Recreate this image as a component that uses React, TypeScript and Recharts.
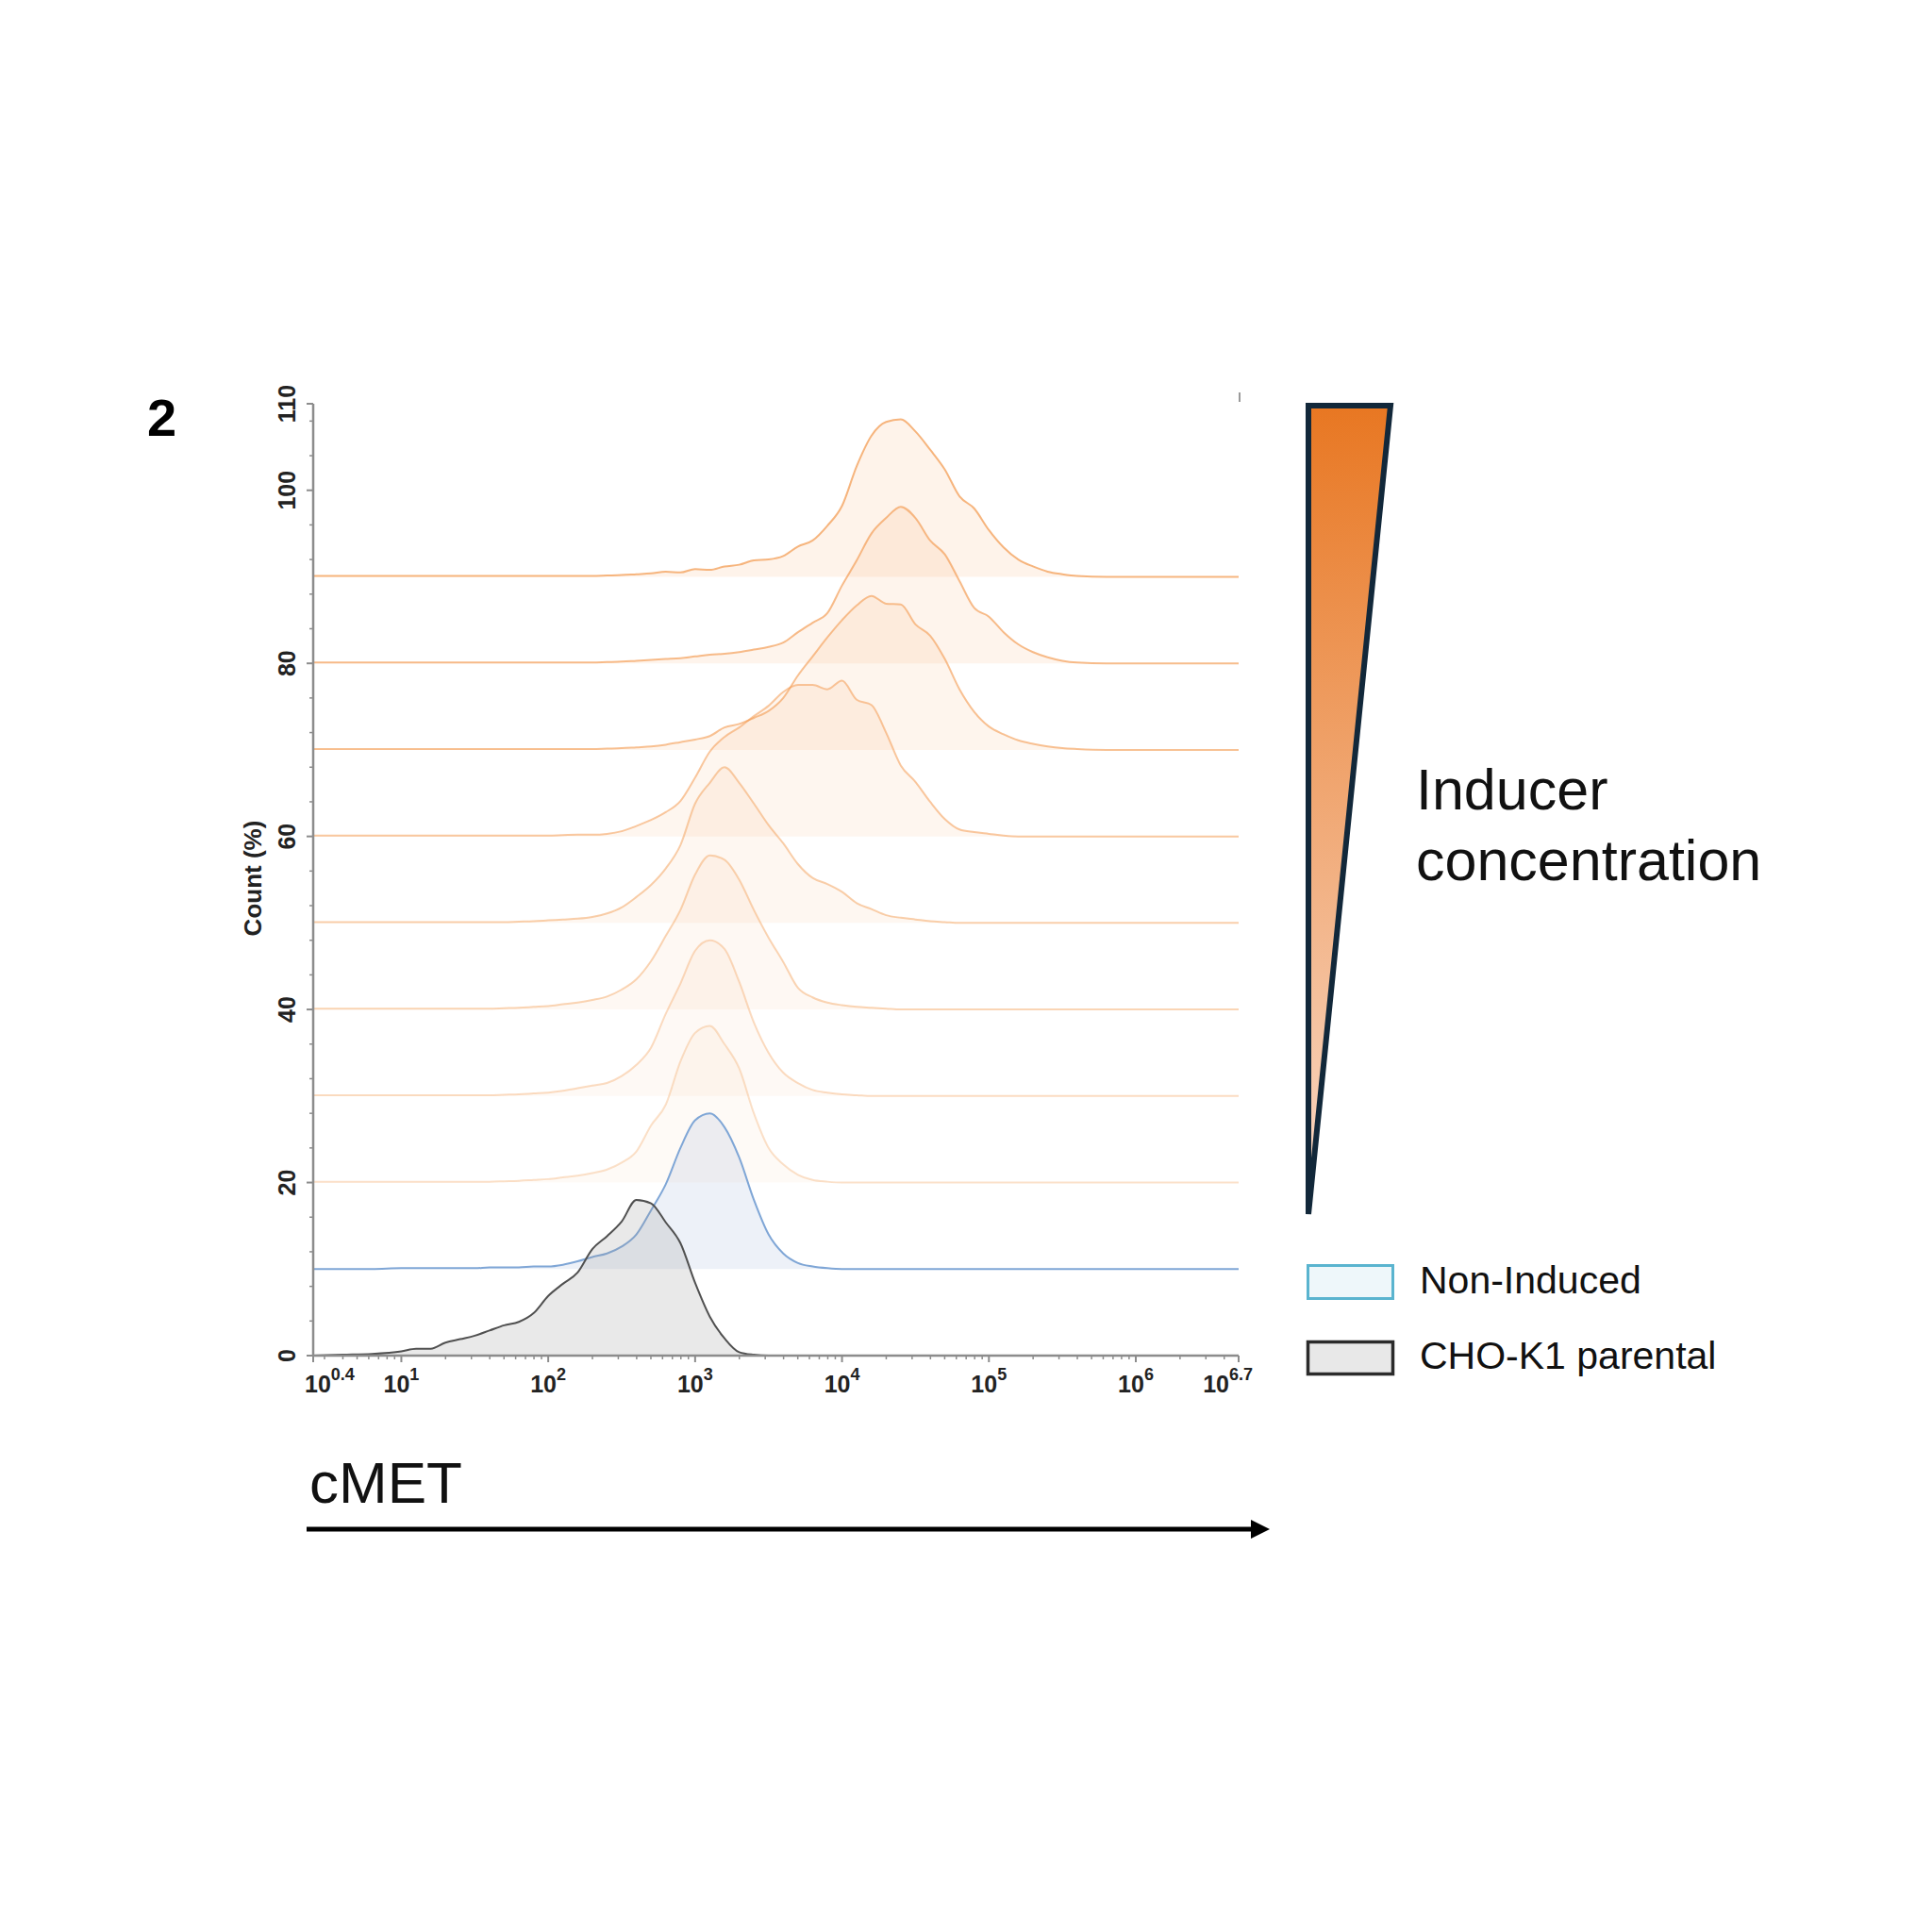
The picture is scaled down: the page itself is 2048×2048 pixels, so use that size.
import React from "react";
import { ComposedChart, Area, XAxis, YAxis } from "recharts";

// histogram bins, log10 of cMET fluorescence
const LOG_X = [
  0.4, 0.6, 0.8, 1.0, 1.1, 1.2, 1.3, 1.4, 1.5, 1.6, 1.7, 1.8, 1.9, 2.0, 2.1,
  2.2, 2.3, 2.4, 2.5, 2.6, 2.7, 2.8, 2.9, 3.0, 3.1, 3.2, 3.3, 3.4, 3.5, 3.6,
  3.7, 3.8, 3.9, 4.0, 4.1, 4.2, 4.3, 4.4, 4.5, 4.6, 4.7, 4.8, 4.9, 5.0, 5.1,
  5.2, 5.3, 5.4, 5.5, 5.6, 5.8, 6.1, 6.4, 6.7,
];

// counts (%) per bin, before offset
const PARENTAL = [
  0, 0.1, 0.2, 0.5, 0.8, 0.8, 1.5, 1.9, 2.3, 2.9, 3.5, 3.9, 4.9, 6.9, 8.3,
  9.6, 12.3, 13.8, 15.5, 18.0, 17.6, 15.4, 13.0, 8.4, 4.5, 2.0, 0.4, 0.1, 0, 0,
  0, 0, 0, 0, 0, 0, 0, 0, 0, 0, 0, 0, 0, 0, 0,
  0, 0, 0, 0, 0, 0, 0, 0, 0,
];
const NON_INDUCED = [
  0, 0, 0, 0.1, 0.1, 0.1, 0.1, 0.1, 0.1, 0.2, 0.2, 0.2, 0.3, 0.3, 0.5,
  0.9, 1.4, 1.8, 2.6, 4.0, 6.8, 9.8, 14.0, 17.2, 18.0, 16.4, 12.9, 8.0, 4.0, 1.8,
  0.7, 0.3, 0.1, 0, 0, 0, 0, 0, 0, 0, 0, 0, 0, 0, 0,
  0, 0, 0, 0, 0, 0, 0, 0, 0,
];
const INDUCED_1 = [
  0.1, 0.1, 0.1, 0.1, 0.1, 0.1, 0.1, 0.1, 0.1, 0.1, 0.15, 0.2, 0.3, 0.4, 0.6,
  0.8, 1.1, 1.5, 2.3, 3.6, 6.6, 9.0, 14.0, 17.3, 18.1, 16.0, 13.2, 8.0, 4.0, 2.1,
  0.9, 0.3, 0.1, 0, 0, 0, 0, 0, 0, 0, 0, 0, 0, 0, 0,
  0, 0, 0, 0, 0, 0, 0, 0, 0,
];
const INDUCED_2 = [
  0.1, 0.1, 0.1, 0.1, 0.1, 0.1, 0.1, 0.1, 0.1, 0.1, 0.15, 0.2, 0.3, 0.4, 0.6,
  0.9, 1.2, 1.5, 2.3, 3.6, 5.6, 9.5, 13.0, 16.8, 18.0, 17.0, 13.2, 8.5, 5.0, 2.7,
  1.5, 0.7, 0.4, 0.2, 0.1, 0, 0, 0, 0, 0, 0, 0, 0, 0, 0,
  0, 0, 0, 0, 0, 0, 0, 0, 0,
];
const INDUCED_3 = [
  0.1, 0.1, 0.1, 0.1, 0.1, 0.1, 0.1, 0.1, 0.1, 0.1, 0.15, 0.2, 0.3, 0.4, 0.6,
  0.8, 1.1, 1.5, 2.3, 3.5, 5.6, 8.5, 11.5, 15.6, 17.8, 17.3, 15.0, 11.5, 8.3, 5.5,
  2.5, 1.4, 0.8, 0.5, 0.3, 0.2, 0.1, 0, 0, 0, 0, 0, 0, 0, 0,
  0, 0, 0, 0, 0, 0, 0, 0, 0,
];
const INDUCED_4 = [
  0.1, 0.1, 0.1, 0.1, 0.1, 0.1, 0.1, 0.1, 0.1, 0.1, 0.1, 0.15, 0.2, 0.3, 0.4,
  0.5, 0.7, 1.1, 1.8, 3.0, 4.4, 6.3, 9.0, 13.8, 16.2, 18.0, 16.2, 13.8, 11.3, 9.2,
  6.8, 5.2, 4.5, 3.6, 2.3, 1.6, 0.9, 0.6, 0.4, 0.2, 0.1, 0, 0, 0, 0,
  0, 0, 0, 0, 0, 0, 0, 0, 0,
];
const INDUCED_5 = [
  0.1, 0.1, 0.1, 0.1, 0.1, 0.1, 0.1, 0.1, 0.1, 0.1, 0.1, 0.1, 0.1, 0.1, 0.15,
  0.2, 0.2, 0.3, 0.6, 1.2, 1.9, 2.8, 4.1, 6.8, 9.8, 11.5, 12.6, 13.9, 15.1, 16.7,
  17.5, 17.5, 17.0, 18.0, 15.8, 15.2, 12.0, 8.2, 6.3, 4.0, 2.0, 0.8, 0.5, 0.3, 0.1,
  0, 0, 0, 0, 0, 0, 0, 0, 0,
];
const INDUCED_6 = [
  0.1, 0.1, 0.1, 0.1, 0.1, 0.1, 0.1, 0.1, 0.1, 0.1, 0.1, 0.1, 0.1, 0.1, 0.1,
  0.1, 0.1, 0.15, 0.2, 0.3, 0.4, 0.6, 0.9, 1.2, 1.6, 2.6, 3.0, 3.7, 4.5, 6.0,
  8.6, 10.8, 13.0, 15.0, 16.7, 17.8, 16.9, 16.8, 14.5, 13.2, 10.5, 7.0, 4.4, 2.7, 1.8,
  1.1, 0.7, 0.4, 0.2, 0.1, 0, 0, 0, 0,
];
const INDUCED_7 = [
  0.1, 0.1, 0.1, 0.1, 0.1, 0.1, 0.1, 0.1, 0.1, 0.1, 0.1, 0.1, 0.1, 0.1, 0.1,
  0.1, 0.1, 0.15, 0.2, 0.3, 0.4, 0.5, 0.6, 0.8, 1.0, 1.1, 1.3, 1.6, 1.9, 2.4,
  3.6, 4.7, 5.8, 9.0, 11.9, 15.0, 16.8, 18.1, 16.8, 14.2, 12.6, 9.5, 6.4, 5.4, 3.6,
  2.2, 1.3, 0.7, 0.3, 0.1, 0, 0, 0, 0,
];
const INDUCED_8 = [
  0.1, 0.1, 0.1, 0.1, 0.1, 0.1, 0.1, 0.1, 0.1, 0.1, 0.1, 0.1, 0.1, 0.1, 0.1,
  0.1, 0.1, 0.15, 0.2, 0.3, 0.4, 0.6, 0.5, 0.9, 0.8, 1.2, 1.4, 1.9, 2.0, 2.4,
  3.5, 4.2, 5.9, 8.2, 12.8, 16.3, 17.9, 18.2, 16.8, 14.7, 12.4, 9.3, 7.9, 5.4, 3.4,
  2.0, 1.2, 0.6, 0.3, 0.1, 0, 0, 0, 0,
];

// vertical offset of each histogram in the overlay
const OFFSETS = [0, 10, 20, 30, 40, 50, 60, 70, 80, 90];

const X_MAJOR = [0.4, 1, 2, 3, 4, 5, 6, 6.7];
const X_MAJOR_EXP = ["0.4", "1", "2", "3", "4", "5", "6", "6.7"];
const X_MINOR_MULT = [2, 3, 4, 5, 6, 7, 8, 9];
const Y_TICKS = [
  0, 4, 8, 12, 16, 20, 24, 28, 32, 36, 40, 44, 48, 52, 56, 60, 64, 68, 72, 76,
  80, 84, 88, 92, 96, 100, 104, 108, 110,
];
const Y_LABELS = [0, 20, 40, 60, 80, 100, 110];

const rows = LOG_X.map((lx, i) => ({
  lx,
  parental: PARENTAL[i],
  nonInduced: NON_INDUCED[i],
  ind1: INDUCED_1[i],
  ind2: INDUCED_2[i],
  ind3: INDUCED_3[i],
  ind4: INDUCED_4[i],
  ind5: INDUCED_5[i],
  ind6: INDUCED_6[i],
  ind7: INDUCED_7[i],
  ind8: INDUCED_8[i],
}));

const xMinor: number[] = [];
for (let n = 0; n <= 6; n++) {
  X_MINOR_MULT.forEach((k) => {
    const v = n + Math.log10(k);
    if (v > 0.4 && v < 6.7) xMinor.push(v);
  });
}
const X_TICKS = [...X_MAJOR, ...xMinor].sort((a, b) => a - b);

const ORANGE = "#f39a4f";
// drawn top (highest inducer) first, parental last
const SERIES = [
  { key: "ind8", offset: OFFSETS[9], stroke: ORANGE, so: 0.72, fill: ORANGE, fo: 0.12 },
  { key: "ind7", offset: OFFSETS[8], stroke: ORANGE, so: 0.66, fill: ORANGE, fo: 0.11 },
  { key: "ind6", offset: OFFSETS[7], stroke: ORANGE, so: 0.6, fill: ORANGE, fo: 0.1 },
  { key: "ind5", offset: OFFSETS[6], stroke: ORANGE, so: 0.54, fill: ORANGE, fo: 0.09 },
  { key: "ind4", offset: OFFSETS[5], stroke: ORANGE, so: 0.48, fill: ORANGE, fo: 0.08 },
  { key: "ind3", offset: OFFSETS[4], stroke: ORANGE, so: 0.42, fill: ORANGE, fo: 0.07 },
  { key: "ind2", offset: OFFSETS[3], stroke: ORANGE, so: 0.35, fill: ORANGE, fo: 0.06 },
  { key: "ind1", offset: OFFSETS[2], stroke: ORANGE, so: 0.3, fill: ORANGE, fo: 0.05 },
  { key: "nonInduced", offset: OFFSETS[1], stroke: "#7fa6d6", so: 1, fill: "#6f8fc8", fo: 0.12 },
  { key: "parental", offset: OFFSETS[0], stroke: "#505050", so: 1, fill: "#9a9a9a", fo: 0.22 },
];

const NARROW = "'Liberation Sans Narrow', 'Arial Narrow', 'Liberation Sans', Arial, sans-serif";
const SANS = "'Liberation Sans', Arial, sans-serif";
const AXIS_GREY = "#8c8c8c";

const XTick = (props: any) => {
  const { x, y, payload } = props;
  const idx = X_MAJOR.findIndex((v) => Math.abs(v - payload.value) < 1e-6);
  if (idx < 0) {
    return <line x1={x} x2={x} y1={y} y2={y + 4} stroke={AXIS_GREY} strokeWidth={1.5} />;
  }
  let anchor: "start" | "middle" | "end" = "middle";
  let tx = x;
  if (idx === 0) {
    anchor = "start";
    tx = x - 9;
  }
  if (idx === X_MAJOR.length - 1) {
    anchor = "end";
    tx = x + 15;
  }
  return (
    <g>
      <line x1={x} x2={x} y1={y} y2={y + 7} stroke={AXIS_GREY} strokeWidth={2} />
      <text
        x={tx}
        y={y + 39}
        textAnchor={anchor}
        fontFamily={NARROW}
        fontWeight="bold"
        fontSize={25}
        fill="#222"
      >
        10
        <tspan dy={-13} fontSize={18}>
          {X_MAJOR_EXP[idx]}
        </tspan>
      </text>
    </g>
  );
};

const YTick = (props: any) => {
  const { x, y, payload } = props;
  const v = payload.value;
  const labeled = Y_LABELS.includes(v);
  return (
    <g>
      <line
        x1={x - (labeled ? 7 : 4)}
        x2={x}
        y1={y}
        y2={y}
        stroke={AXIS_GREY}
        strokeWidth={labeled ? 2 : 1.5}
      />
      {labeled && (
        <text
          transform={`translate(${x - 28}, ${y}) rotate(-90)`}
          textAnchor="middle"
          dominantBaseline="central"
          fontFamily={NARROW}
          fontWeight="bold"
          fontSize={25}
          fill="#222"
        >
          {v}
        </text>
      )}
    </g>
  );
};

export default function App() {
  return (
    <div style={{ position: "absolute", left: 0, top: 0, width: 2048, height: 2048, background: "#fff" }}>
      <div style={{ position: "absolute", left: 0, top: 0 }}>
        <ComposedChart
          width={1340}
          height={1520}
          data={rows}
          margin={{ top: 428, right: 27, bottom: 23, left: 272 }}
        >
          <XAxis
            dataKey="lx"
            type="number"
            domain={[0.4, 6.7]}
            ticks={X_TICKS}
            interval={0}
            height={60}
            tickSize={0}
            tickMargin={0}
            tickLine={false}
            tick={<XTick />}
            axisLine={{ stroke: AXIS_GREY, strokeWidth: 2.5 }}
          />
          <XAxis
            xAxisId="top"
            orientation="top"
            type="number"
            domain={[0.4, 6.7]}
            height={0}
            tick={false}
            tickLine={false}
            axisLine={{ stroke: "#9a9a9a", strokeWidth: 2.5 }}
          />
          <YAxis
            type="number"
            domain={[0, 110]}
            ticks={Y_TICKS}
            interval={0}
            width={60}
            tickSize={0}
            tickMargin={0}
            tickLine={false}
            tick={<YTick />}
            axisLine={{ stroke: AXIS_GREY, strokeWidth: 2.5 }}
          />
          <YAxis
            yAxisId="right"
            orientation="right"
            type="number"
            domain={[0, 110]}
            width={0}
            tick={false}
            tickLine={false}
            axisLine={{ stroke: "#9a9a9a", strokeWidth: 2.5 }}
          />
          {SERIES.map((s) => (
            <Area
              key={s.key}
              type="monotone"
              dataKey={(d: any) => d[s.key] + s.offset}
              baseValue={s.offset}
              stroke={s.stroke}
              strokeOpacity={s.so}
              strokeWidth={2}
              fill={s.fill}
              fillOpacity={s.fo}
              dot={false}
              activeDot={false}
              isAnimationActive={false}
            />
          ))}
        </ComposedChart>
      </div>

      <svg
        width={2048}
        height={2048}
        style={{ position: "absolute", left: 0, top: 0, pointerEvents: "none" }}
      >
        <defs>
          <linearGradient id="inducer" x1="0" y1="0" x2="0" y2="1">
            <stop offset="0%" stopColor="#e87722" />
            <stop offset="100%" stopColor="#f9dac8" />
          </linearGradient>
        </defs>

        <text x={156} y={462} fontFamily={SANS} fontWeight="bold" fontSize={56} fill="#000">
          2
        </text>

        {/* small stray tick at the top-right corner of the frame */}
        <line x1={1314} x2={1314} y1={416} y2={426} stroke="#9a9a9a" strokeWidth={2} />

        <text
          transform="translate(268, 931) rotate(-90)"
          textAnchor="middle"
          dominantBaseline="central"
          fontFamily={NARROW}
          fontWeight="bold"
          fontSize={26}
          fill="#222"
        >
          Count (%)
        </text>

        <text x={328} y={1593} fontFamily={SANS} fontSize={62} fill="#111">
          cMET
        </text>
        <line x1={325} x2={1328} y1={1621} y2={1621} stroke="#000" strokeWidth={5} />
        <polygon points="1346,1621 1326,1611 1326,1631" fill="#000" />

        <polygon
          points="1387,430 1474,430 1387,1287"
          fill="url(#inducer)"
          stroke="#12283a"
          strokeWidth={6}
          strokeLinejoin="miter"
        />
        <text x={1501} y={858} fontFamily={SANS} fontSize={61} fill="#111">
          Inducer
        </text>
        <text x={1501} y={933} fontFamily={SANS} fontSize={61} fill="#111">
          concentration
        </text>

        <rect x={1386.5} y={1341.5} width={90} height={35} fill="#eef7fa" stroke="#5ab4cf" strokeWidth={3} />
        <text x={1505} y={1357} dominantBaseline="central" fontFamily={SANS} fontSize={41} fill="#111">
          Non-Induced
        </text>
        <rect x={1386.5} y={1422.5} width={90} height={34} fill="#e8e8e8" stroke="#2b2b2b" strokeWidth={3.5} />
        <text x={1505} y={1437} dominantBaseline="central" fontFamily={SANS} fontSize={41} fill="#111">
          CHO-K1 parental
        </text>
      </svg>
    </div>
  );
}
